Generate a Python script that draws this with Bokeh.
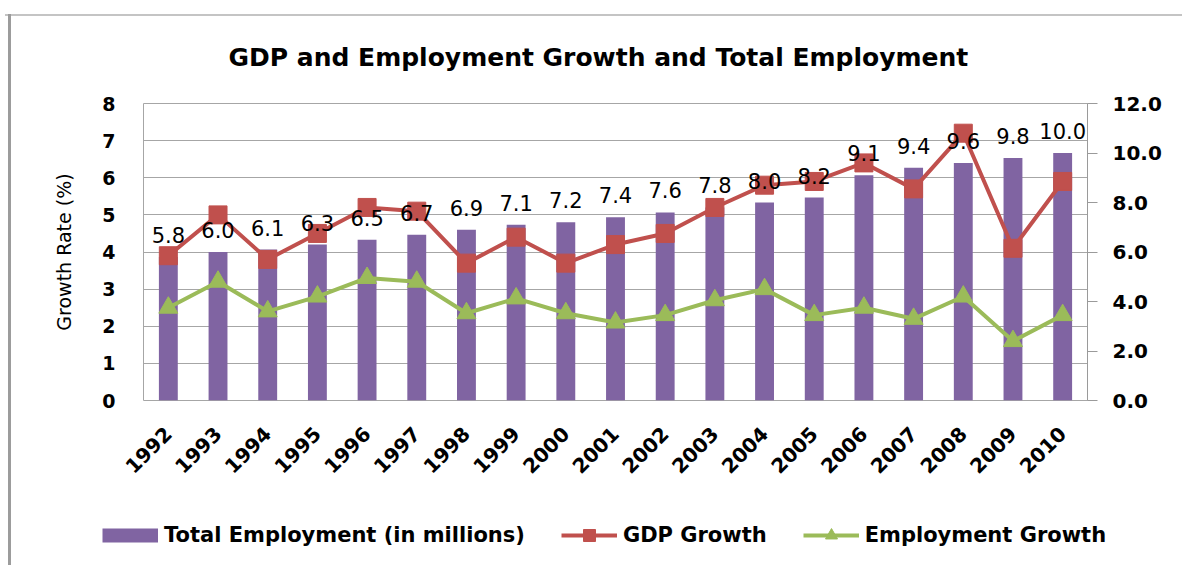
from bokeh.plotting import figure
from bokeh.models import (Range1d, FactorRange, LinearAxis, FixedTicker, NumeralTickFormatter,
                          Legend, LegendItem, ColumnDataSource, InlineStyleSheet)
from bokeh.core.properties import value
from bokeh.embed import file_html
from bokeh.resources import INLINE
import math

years = ["1992", "1993", "1994", "1995", "1996", "1997", "1998", "1999", "2000", "2001",
         "2002", "2003", "2004", "2005", "2006", "2007", "2008", "2009", "2010"]
total_employment = [5.8, 6.0, 6.1, 6.3, 6.5, 6.7, 6.9, 7.1, 7.2, 7.4,
                    7.6, 7.8, 8.0, 8.2, 9.1, 9.4, 9.6, 9.8, 10.0]
gdp_growth = [3.9, 5.0, 3.8, 4.5, 5.2, 5.1, 3.7, 4.4, 3.7, 4.2,
              4.5, 5.2, 5.8, 5.9, 6.4, 5.7, 7.2, 4.1, 5.9]
employment_growth = [2.5, 3.2, 2.4, 2.8, 3.3, 3.2, 2.35, 2.75, 2.35, 2.1,
                     2.3, 2.7, 3.0, 2.3, 2.5, 2.2, 2.8, 1.6, 2.3]
left_ticks = [0, 1, 2, 3, 4, 5, 6, 7, 8]
right_ticks = [0, 2, 4, 6, 8, 10, 12]

title_text = "GDP and Employment Growth and Total Employment"
FONT = "DejaVu Sans"
PURPLE = "#8064A2"
RED = "#C0504D"
GREEN = "#9BBB59"
GRID = "#A6A6A6"

src = ColumnDataSource(dict(
    year=years, emp=total_employment, gdp=gdp_growth, eg=employment_growth,
    lbl=[f"{v:.1f}" for v in total_employment],
))

p = figure(width=1182, height=510, x_range=FactorRange(*years), y_range=Range1d(0, 8),
           output_backend="svg", toolbar_location=None, title=title_text,
           min_border_left=143, min_border_right=95, min_border_top=103, min_border_bottom=110)
p.extra_y_ranges = {"emp": Range1d(0, 12)}
p.background_fill_color = "white"
p.border_fill_color = "white"
p.outline_line_color = GRID
p.outline_line_width = 1

# title
p.title.align = "left"
p.title.offset = 85
p.title.standoff = 64
p.title.text_font = FONT
p.title.text_font_style = "bold"
p.title.text_font_size = "25px"
p.title.text_color = "black"

# bars
p.vbar(x="year", top="emp", width=0.38, source=src, y_range_name="emp",
       fill_color=PURPLE, line_color=None)
# lines
p.line(x="year", y="gdp", source=src, line_color=RED, line_width=4)
p.scatter(x="year", y="gdp", source=src, marker="square", size=18,
          fill_color=RED, line_color=RED)
p.line(x="year", y="eg", source=src, line_color=GREEN, line_width=4)
p.scatter(x="year", y="eg", source=src, marker="triangle", size=19,
          fill_color=GREEN, line_color=GREEN)
# data labels
p.text(x="year", y="emp", text="lbl", source=src, y_range_name="emp",
       y_offset=-22, text_align="center", text_baseline="middle",
       text_font_size="21px", text_color="black", text_font=value(FONT))

# left axis
la = p.yaxis[0]
la.ticker = FixedTicker(ticks=left_ticks)
la.axis_line_color = None
la.major_tick_line_color = None
la.minor_tick_line_color = None
la.major_tick_out = 0
la.major_label_standoff = 28
la.major_label_text_font = FONT
la.major_label_text_font_style = "bold"
la.major_label_text_font_size = "19px"
la.major_label_text_color = "black"
la.axis_label = "Growth Rate (%)"
la.axis_label_text_font = FONT
la.axis_label_text_font_style = "normal"
la.axis_label_text_font_size = "19px"
la.axis_label_text_color = "black"
la.axis_label_standoff = 24

# right axis
ra = LinearAxis(y_range_name="emp", ticker=FixedTicker(ticks=right_ticks),
                formatter=NumeralTickFormatter(format="0.0"))
ra.axis_line_color = "#9A9A9A"
ra.major_tick_line_color = "#9A9A9A"
ra.major_tick_out = 10
ra.major_tick_in = 0
ra.minor_tick_line_color = None
ra.major_label_standoff = 15
ra.major_label_text_font = FONT
ra.major_label_text_font_style = "bold"
ra.major_label_text_font_size = "20px"
ra.major_label_text_color = "black"
p.add_layout(ra, "right")

# bottom axis
xa = p.xaxis[0]
xa.axis_line_color = None
xa.major_tick_line_color = None
xa.minor_tick_line_color = None
xa.major_tick_out = 0
xa.major_label_orientation = math.pi / 4
xa.major_label_standoff = 30
xa.major_label_text_font = FONT
xa.major_label_text_font_style = "bold"
xa.major_label_text_font_size = "20px"
xa.major_label_text_color = "black"

# grid
p.xgrid.grid_line_color = None
p.ygrid.ticker = FixedTicker(ticks=left_ticks)
p.ygrid.grid_line_color = GRID
p.ygrid.grid_line_width = 1

# thin frame lines of the original picture (top and left edge)
p.stylesheets = [InlineStyleSheet(css="""
:host::before { content: ""; position: absolute; left: 5px; top: 14px; width: 1177px;
  height: 2px; background: #C4C4C4; z-index: 5; pointer-events: none; }
:host::after { content: ""; position: absolute; left: 8px; top: 14px; height: 551px;
  width: 3px; background: #9C9C9C; z-index: 5; pointer-events: none; }
""")]

# legend strip: a separate root below the chart; its series draw the same data
# but lie outside this strip's visible range, so only the legend shows.
lg = figure(width=1182, height=55, x_range=FactorRange(*years), y_range=Range1d(100, 101),
            output_backend="svg", toolbar_location=None, title=None,
            x_axis_location=None, y_axis_location=None, min_border=0)
lg.grid.grid_line_color = None
lg.outline_line_color = None
lg.background_fill_color = "white"
lg.border_fill_color = "white"
k_bar = lg.line(x="year", y="emp", source=src, line_color=PURPLE, line_width=14, line_cap="butt")
k_gdp_l = lg.line(x="year", y="gdp", source=src, line_color=RED, line_width=4)
k_gdp_m = lg.scatter(x="year", y="gdp", source=src, marker="square", fill_color=RED, line_color=RED)
k_eg_l = lg.line(x="year", y="eg", source=src, line_color=GREEN, line_width=4)
k_eg_m = lg.scatter(x="year", y="eg", source=src, marker="triangle", fill_color=GREEN, line_color=GREEN)

legend = Legend(items=[
    LegendItem(label="Total Employment (in millions)", renderers=[k_bar]),
    LegendItem(label="GDP Growth", renderers=[k_gdp_l, k_gdp_m]),
    LegendItem(label="Employment Growth", renderers=[k_eg_l, k_eg_m]),
], orientation="horizontal", location=(102, 15))
legend.border_line_color = None
legend.background_fill_alpha = 0
legend.padding = 0
legend.margin = 0
legend.spacing = 36
legend.glyph_width = 56
legend.glyph_height = 30
legend.label_height = 30
legend.label_standoff = 6
legend.label_text_font = FONT
legend.label_text_font_style = "bold"
legend.label_text_font_size = "21px"
legend.label_text_color = "black"
legend.label_text_baseline = "middle"
lg.add_layout(legend, "center")

open("out.html", "w").write(file_html([p, lg], INLINE))
